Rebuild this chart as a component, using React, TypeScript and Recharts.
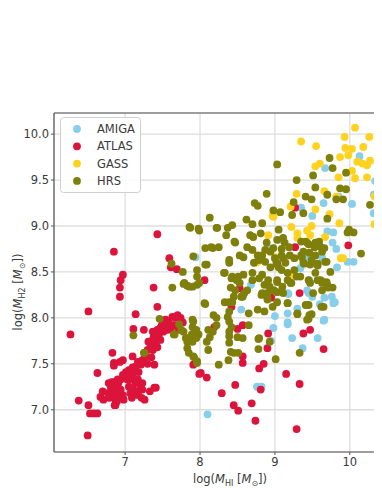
import React from "react";
import {
  ScatterChart,
  Scatter,
  XAxis,
  YAxis,
  CartesianGrid,
  ReferenceLine,
  Legend,
  Label,
} from "recharts";

type P = [number, number];

const seriesNames = ["AMIGA", "ATLAS", "GASS", "HRS"];
const seriesColors = ["#87CEEB", "#DC143C", "#FFD21F", "#7F7F0C"];

const xTicks = [7, 8, 9, 10];
const yTicks = [7.0, 7.5, 8.0, 8.5, 9.0, 9.5, 10.0];

const AMIGA: P[] = [
  [7.94, 8.66], [10.13, 9.76], [9.67, 9.63], [10.34, 9.49], [9.85, 9.32], [10.03, 9.24], [10.32, 9.34],
  [9.65, 9.25], [9.5, 9.11], [9.35, 9.2], [10.32, 9.14], [9.78, 8.93], [9.7, 8.94], [9.77, 8.82],
  [9.82, 8.75], [9.97, 8.61], [10.05, 8.61], [9.83, 8.55], [9.54, 8.59], [9.41, 8.66], [9.34, 8.54],
  [9.18, 8.26], [9.45, 8.27], [9.7, 8.34], [8.68, 8.36], [8.91, 8.76], [9.07, 8.85], [8.58, 8.26],
  [9.63, 8.66], [9.46, 8.41], [9.17, 8.27], [9.43, 8.3], [9.5, 8.23], [9.66, 8.22], [9.76, 8.23],
  [9.8, 8.17], [9.17, 8.05], [9.3, 8.1], [9.66, 7.98], [9.17, 7.95], [9.23, 7.78], [9.57, 7.78],
  [8.55, 8.09], [9.17, 7.93], [8.98, 7.89], [9.37, 7.67], [9.65, 7.97], [9.78, 8.16], [8.76, 7.25],
  [8.82, 7.25], [8.1, 6.95], [8.59, 8.27], [9.6, 8.15], [9.0, 8.02], [8.95, 7.75],
];

const ATLAS: P[] = [
  [6.85, 8.72], [7.43, 8.91], [6.97, 8.47], [6.94, 8.41], [6.93, 8.33], [6.93, 8.23], [7.38, 8.33],
  [7.61, 8.55], [7.69, 8.53], [6.27, 7.82], [6.51, 8.07], [7.14, 8.04], [7.11, 7.88], [7.25, 7.87],
  [6.83, 7.62], [6.97, 7.54], [6.63, 7.4], [6.38, 7.1], [6.51, 7.05], [6.53, 6.96], [6.58, 6.96],
  [6.63, 6.96], [6.5, 6.72], [6.85, 7.51], [7.39, 7.49], [7.41, 7.24], [7.26, 7.11], [6.98, 7.11],
  [6.87, 7.05], [7.91, 7.49], [7.99, 7.39], [7.59, 8.65], [8.06, 8.41], [8.53, 8.32], [8.42, 8.12],
  [8.95, 8.22], [8.19, 7.9], [8.5, 7.88], [8.57, 7.92], [7.82, 7.78], [8.91, 7.83], [8.9, 7.67],
  [9.38, 7.83], [9.47, 7.87], [9.65, 7.66], [8.57, 7.58], [8.57, 7.51], [8.85, 7.5], [8.79, 7.45],
  [8.01, 7.4], [8.09, 7.35], [8.47, 7.27], [8.29, 7.18], [9.15, 7.39], [9.33, 7.28], [8.81, 7.22],
  [8.45, 7.05], [8.51, 6.99], [8.69, 7.07], [8.74, 6.88], [9.29, 6.79], [9.27, 9.2], [9.98, 8.79],
  [9.27, 8.77], [9.03, 8.59], [9.33, 8.27],
  [6.67, 7.14], [6.71, 7.11], [6.7, 7.2], [6.78, 7.29], [6.81, 7.24], [6.85, 7.25], [6.83, 7.18],
  [6.9, 7.2], [6.87, 7.11], [6.91, 7.29], [6.9, 7.33], [6.85, 7.3], [6.94, 7.22], [6.97, 7.16],
  [6.91, 7.13], [6.87, 7.27], [6.94, 7.33], [6.98, 7.36],
  [7.01, 7.41], [7.05, 7.43], [7.1, 7.46], [7.07, 7.38], [7.11, 7.4], [7.14, 7.47], [7.03, 7.33],
  [7.1, 7.33], [7.14, 7.29], [7.05, 7.25], [7.11, 7.22], [7.17, 7.18], [7.21, 7.24], [7.23, 7.29],
  [7.17, 7.33], [7.18, 7.41], [7.21, 7.49], [7.17, 7.52], [7.23, 7.54], [7.27, 7.58],
  [7.3, 7.65], [7.34, 7.68], [7.31, 7.74], [7.37, 7.76], [7.38, 7.79], [7.41, 7.84], [7.37, 7.85],
  [7.43, 7.87], [7.45, 7.82], [7.47, 7.89], [7.49, 7.92], [7.51, 7.9], [7.41, 7.73], [7.43, 7.68],
  [7.47, 7.76], [7.51, 7.85], [7.57, 7.87], [7.61, 7.89], [7.58, 7.95], [7.54, 7.98], [7.63, 8.01],
  [7.67, 8.0], [7.7, 8.03], [7.74, 8.0], [7.77, 7.95], [7.65, 7.92], [7.71, 7.87], [7.37, 7.65],
  [7.43, 8.12],
  [7.07, 7.18], [7.13, 7.2], [7.17, 7.16], [7.22, 7.13], [7.33, 7.2], [7.39, 7.24], [7.23, 7.22],
  [7.09, 7.13], [6.82, 7.3], [6.89, 7.3], [6.83, 7.24], [6.77, 7.18], [6.79, 7.13], [6.86, 7.05],
  [6.89, 7.09], [6.93, 7.13], [6.97, 7.38], [6.93, 7.52], [7.1, 7.58], [6.85, 7.48],
  [7.25, 7.55], [7.3, 7.5], [7.35, 7.57],
];

const GASS: P[] = [
  [10.07, 10.07], [9.93, 9.97], [10.26, 9.97], [9.35, 9.92], [9.55, 9.87], [9.94, 9.85], [10.03, 9.84],
  [10.18, 9.86], [9.87, 9.75], [10.1, 9.7], [10.17, 9.68], [10.23, 9.66], [10.27, 9.71], [9.54, 9.65],
  [9.6, 9.68], [10.03, 9.6], [10.07, 9.52], [10.23, 9.53], [9.85, 9.53], [9.66, 9.38], [9.29, 9.35],
  [9.82, 9.32], [10.33, 9.32], [9.21, 9.21], [9.54, 9.18], [9.73, 9.13], [8.98, 9.1], [10.33, 9.02],
  [9.22, 8.99], [9.49, 9.0], [9.86, 9.03], [8.91, 8.9], [9.3, 8.87], [9.47, 8.9], [9.67, 8.88],
  [8.77, 8.61], [9.0, 8.66], [9.91, 8.65], [9.21, 8.46], [8.97, 9.11], [8.71, 8.88], [8.75, 8.6],
  [9.88, 8.65], [9.2, 8.47], [9.43, 8.95], [9.3, 8.92], [9.98, 9.77],
];

const HRS: P[] = [
  [7.86, 8.99], [7.62, 8.59], [7.77, 8.5], [7.63, 8.33], [7.78, 8.37], [7.86, 8.34], [7.91, 8.67],
  [7.99, 8.95], [7.96, 8.52], [7.96, 8.45], [7.96, 8.36], [7.11, 7.81], [7.26, 7.62], [7.46, 7.99],
  [7.65, 7.82], [7.72, 7.93], [7.78, 7.85], [7.81, 7.78], [7.9, 7.9], [7.91, 7.96], [7.93, 7.82],
  [7.98, 7.82], [7.83, 7.67], [7.85, 7.62], [7.92, 7.57], [7.96, 7.53], [7.83, 7.74], [7.25, 7.62],
  [8.89, 9.35], [8.73, 9.25], [8.77, 9.22], [8.98, 9.17], [8.13, 9.09], [7.98, 8.97], [8.22, 8.98],
  [8.37, 8.98], [8.43, 9.01], [8.62, 9.07], [8.7, 9.02], [8.83, 9.03], [9.03, 9.67],
  [9.73, 9.74], [9.77, 9.63], [9.51, 9.55], [9.95, 9.58], [9.29, 9.5], [9.54, 9.42], [9.87, 9.41],
  [9.95, 9.4], [9.41, 9.32], [9.49, 9.29], [9.7, 9.34], [9.82, 9.29], [9.91, 9.29], [10.27, 9.23],
  [9.25, 9.26], [9.07, 9.15], [9.23, 9.12], [9.38, 9.14], [9.7, 9.08], [9.97, 8.93], [10.05, 8.93],
  [8.23, 8.98], [7.87, 8.98], [8.47, 8.82], [8.67, 8.9], [8.81, 8.92], [9.05, 8.96], [9.11, 8.87],
  [9.35, 8.83], [9.41, 8.83], [9.45, 8.8], [9.54, 8.82], [9.6, 8.78], [8.89, 8.82], [8.98, 8.76],
  [9.09, 8.75], [8.63, 8.77], [8.7, 8.74], [8.07, 8.76], [8.17, 8.76], [8.25, 8.77], [8.53, 8.68],
  [8.58, 8.66], [10.15, 8.7], [9.74, 8.5], [8.07, 8.58], [8.32, 8.49], [8.39, 8.6],
  [8.77, 8.68], [8.83, 8.68], [8.87, 8.74], [8.94, 8.72], [9.0, 8.65], [9.11, 8.65], [9.2, 8.68],
  [9.36, 8.66], [9.38, 8.72], [9.46, 8.71], [9.54, 8.68], [9.63, 8.72], [8.72, 8.6], [8.79, 8.63],
  [8.87, 8.61], [8.94, 8.55], [9.05, 8.55], [9.14, 8.6], [9.38, 8.6], [9.47, 8.58], [9.57, 8.57],
  [9.67, 8.61], [9.34, 8.45], [9.45, 8.41], [9.54, 8.49], [8.43, 8.45], [8.51, 8.45], [8.58, 8.47],
  [8.7, 8.49], [8.83, 8.47], [8.91, 8.41], [9.03, 8.41], [9.17, 8.41], [9.21, 8.38], [9.47, 8.38],
  [9.61, 8.41], [9.65, 8.39], [9.7, 8.36], [8.41, 8.33], [8.47, 8.3], [8.97, 8.3], [9.03, 8.28],
  [9.11, 8.27], [9.51, 8.27], [9.63, 8.3], [9.71, 8.33], [8.83, 8.27], [8.9, 8.23], [8.45, 8.23],
  [8.57, 8.23],
  [8.46, 8.83], [8.39, 8.63], [8.09, 8.58], [7.99, 8.38], [8.33, 8.49], [8.42, 8.43], [8.49, 8.41],
  [8.53, 8.38], [7.79, 8.38], [7.83, 8.35], [7.9, 8.34], [8.7, 8.41], [8.63, 8.3], [8.59, 8.27],
  [8.55, 8.23], [8.79, 8.43], [8.86, 8.36], [8.93, 8.34], [8.89, 8.27], [8.82, 8.25], [8.9, 8.2],
  [8.97, 8.12], [8.06, 8.16], [8.33, 8.17], [8.39, 8.17], [8.43, 8.17], [8.39, 8.07], [8.37, 8.01],
  [8.39, 7.96], [8.42, 7.9], [8.39, 7.85], [8.22, 8.0], [7.9, 7.98], [7.75, 7.87], [7.66, 7.82],
  [7.95, 7.87], [7.89, 7.82], [7.95, 7.78], [7.9, 7.74], [8.13, 7.79], [8.09, 7.74], [8.5, 7.79],
  [8.57, 7.78], [8.79, 7.78], [8.93, 7.74], [8.77, 8.09], [8.86, 8.07], [8.71, 8.88], [8.35, 8.9],
  [8.15, 8.77],
  [8.39, 7.8], [8.39, 7.73], [8.41, 7.63], [8.38, 7.54], [8.45, 7.62], [8.51, 7.62], [8.65, 7.92],
  [8.65, 8.05], [8.18, 8.03], [8.22, 7.92], [8.17, 7.85], [8.11, 7.87], [8.11, 7.65], [7.91, 7.58],
  [7.96, 7.51], [8.25, 7.49], [8.78, 7.66], [8.78, 7.77], [9.01, 7.55], [9.33, 7.62], [9.3, 8.04],
  [9.45, 7.99], [9.49, 8.04], [9.45, 8.14], [9.41, 8.14], [9.65, 8.12], [8.07, 8.15], [9.17, 8.16],
  [9.03, 8.85], [9.13, 8.82], [9.09, 8.68], [9.19, 8.77], [9.26, 8.65], [9.35, 8.68], [9.43, 8.82],
  [9.53, 8.77], [9.59, 8.83], [9.66, 8.76], [9.39, 8.59], [9.49, 8.63], [9.57, 8.59], [9.69, 8.61],
  [9.09, 8.52], [9.17, 8.49], [9.26, 8.52], [9.29, 8.45], [9.03, 8.39], [9.1, 8.34], [8.99, 8.3],
  [9.22, 8.38], [9.57, 8.41], [9.63, 8.38], [9.69, 8.39], [9.77, 8.33], [9.43, 8.14], [9.46, 8.03],
  [9.3, 8.05], [9.17, 8.16], [9.03, 8.17], [9.43, 7.98], [9.62, 8.12], [9.02, 8.6], [9.99, 8.96],
];

const allSeries: P[][] = [AMIGA, ATLAS, GASS, HRS];

const X_DOMAIN: [number, number] = [6.05, 10.43];
const Y_DOMAIN: [number, number] = [6.54, 10.23];

const FONT = "'DejaVu Sans', sans-serif";
const TEXT = "#3a3a3a";
const SPINE = "#555";

const makeDot = (color: string) => (props: any) => (
  <circle cx={props.cx} cy={props.cy} r={3.9} fill={color} />
);

const XLabelContent = (props: any) => {
  const vb = props.viewBox || { x: 0, y: 0, width: 0 };
  const cx = vb.x + 176;
  const y = vb.y + 31;
  return (
    <text x={cx} y={y} textAnchor="middle" fontFamily={FONT} fontSize={11.5} fill={TEXT}>
      log(<tspan fontStyle="italic">M</tspan>
      <tspan fontSize={8} dy={3}>HI</tspan>
      <tspan dy={-3}> [</tspan>
      <tspan fontStyle="italic">M</tspan>
      <tspan fontSize={8} dy={3}>⊙</tspan>
      <tspan dy={-3}>])</tspan>
    </text>
  );
};

const YLabelContent = () => {
  const x = 14;
  const y = 284;
  return (
    <text
      x={x}
      y={y}
      textAnchor="middle"
      fontFamily={FONT}
      fontSize={11.5}
      fill={TEXT}
      transform={`rotate(-90, ${x}, ${y})`}
    >
      log(<tspan fontStyle="italic">M</tspan>
      <tspan fontSize={8} dy={3}>H2</tspan>
      <tspan dy={-3}> [</tspan>
      <tspan fontStyle="italic">M</tspan>
      <tspan fontSize={8} dy={3}>⊙</tspan>
      <tspan dy={-3}>])</tspan>
    </text>
  );
};

const LegendContent = () => (
  <svg width={82} height={77} style={{ display: "block" }}>
    <rect x={0.5} y={0.5} width={80} height={75} rx={3} ry={3} fill="rgba(255,255,255,0.85)" stroke="#cfcfcf" />
    {seriesNames.map((name, i) => (
      <g key={name}>
        <circle cx={17} cy={12 + i * 17.3} r={3.9} fill={seriesColors[i]} />
        <text x={37} y={12 + i * 17.3 + 4} fontFamily={FONT} fontSize={11.5} fill={TEXT}>
          {name}
        </text>
      </g>
    ))}
  </svg>
);

export default function App() {
  return (
    <div style={{ width: 374, height: 486 }}>
      <style>{"html,body{overflow:hidden}"}</style>
      <ScatterChart
        width={374}
        height={486}
        margin={{ top: 105, right: 0, bottom: 12, left: 0 }}
      >
        <CartesianGrid stroke="#dedede" strokeWidth={1.3} />
        <XAxis
          type="number"
          dataKey="x"
          domain={X_DOMAIN}
          ticks={xTicks}
          allowDataOverflow
          height={30}
          tickSize={3}
          tickMargin={3}
          stroke={SPINE}
          tick={{ fill: TEXT, fontSize: 11.5, fontFamily: FONT }}
          tickLine={{ stroke: SPINE }}
          axisLine={{ stroke: SPINE, strokeWidth: 1.2 }}
        >
          <Label content={XLabelContent} />
        </XAxis>
        <YAxis
          type="number"
          dataKey="y"
          domain={Y_DOMAIN}
          ticks={yTicks}
          allowDataOverflow
          width={46}
          tickSize={3}
          tickMargin={2}
          tickFormatter={(v: number) => v.toFixed(1)}
          tick={{ fill: TEXT, fontSize: 11.5, fontFamily: FONT }}
          tickLine={{ stroke: SPINE }}
          axisLine={{ stroke: SPINE, strokeWidth: 1.2 }}
        >
          <Label content={YLabelContent} />
        </YAxis>
        <ReferenceLine y={Y_DOMAIN[1]} stroke={SPINE} strokeWidth={1.2} />
        {allSeries.map((pts, i) => (
          <Scatter
            key={seriesNames[i]}
            name={seriesNames[i]}
            data={pts.map(([x, y]) => ({ x, y }))}
            fill={seriesColors[i]}
            shape={makeDot(seriesColors[i])}
            isAnimationActive={false}
          />
        ))}
        <Legend
          layout="vertical"
          align="center"
          verticalAlign="middle"
          content={LegendContent}
          wrapperStyle={{ left: 52, top: 109, width: 82 }}
        />
      </ScatterChart>
    </div>
  );
}
